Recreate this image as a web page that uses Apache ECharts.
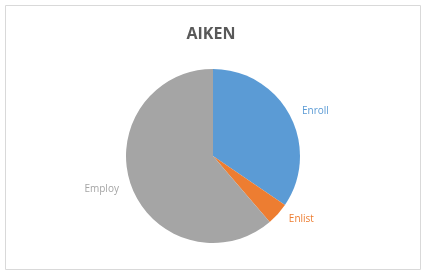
<!DOCTYPE html>
<html lang="en">
<head>
    <meta charset="UTF-8">
    <title>AIKEN</title>
    <script src="https://cdn.jsdelivr.net/npm/echarts@6/dist/echarts.min.js"></script>
    <style>
        html, body { margin: 0; padding: 0; background: #fff; }
    </style>
</head>
<body>
<div id="main" style="width: 422px;height:272px;"></div>

<script type="text/javascript">
    var categories = ['Enroll', 'Enlist', 'Employ'];
    var values = [34.5, 4.2, 61.3];
    var colors = ['#5B9BD5', '#ED7D31', '#A5A5A5'];

    var pieData = [];
    for (var i = 0; i < categories.length; i++) {
        pieData.push({
            name: categories[i],
            value: values[i],
            itemStyle: { color: colors[i] },
            label: { color: colors[i] }
        });
    }

    var myChart = echarts.init(document.getElementById('main'));
    var option = {
        animation: false,
        title: {
            text: 'AIKEN',
            left: 'center',
            top: 21,
            textStyle: {
                fontFamily: 'Open Sans',
                fontSize: 16,
                fontWeight: 'bold',
                color: '#595959'
            }
        },
        // light frame round the chart area
        graphic: [
            {
                type: 'rect',
                shape: { x: 5.5, y: 5.5, width: 415, height: 264 },
                style: { fill: 'none', stroke: '#d9d9d9', lineWidth: 1 }
            }
        ],
        series: [
            {
                type: 'pie',
                center: [213, 156],
                radius: 87,
                startAngle: 90,
                clockwise: true,
                data: pieData,
                itemStyle: { borderWidth: 0 },
                label: {
                    show: true,
                    position: 'outside',
                    fontFamily: 'Open Sans',
                    fontSize: 10,
                    formatter: '{b}'
                },
                labelLine: { show: false, length: 8, length2: 0 }
            }
        ]
    };

    myChart.setOption(option);
</script>
</body>
</html>
